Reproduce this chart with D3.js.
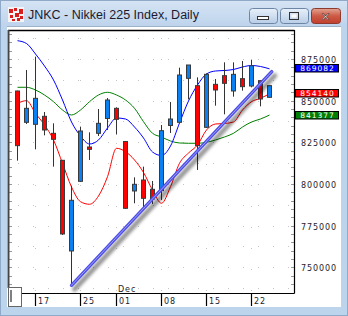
<!DOCTYPE html>
<html>
<head>
<meta charset="utf-8">
<script src="https://cdn.jsdelivr.net/npm/d3@7"></script>
<style>
  html, body { margin: 0; padding: 0; background: #bcd4ec; overflow: hidden; }
  svg { display: block; }
</style>
</head>
<body>
<svg id="chart" width="348" height="316"></svg>
<script>
// trading days shown on the chart
const dates = ["11-13","11-14","11-17","11-18","11-19","11-20","11-21","11-25","11-26","11-27","11-28",
  "12-01","12-02","12-03","12-04","12-05","12-08","12-09","12-10","12-11","12-12",
  "12-15","12-16","12-17","12-18","12-19","12-22","12-24","12-25"];
const open  = [855800,837000,835800,840600,830400,814200,759800,801600,822200,830400,839300,
  845400,825500,795800,802400,796800,796000,835100,837000,863400,859000,
  834000,859800,865000,855800,863200,858800,862000,852000];
const high  = [856000,868400,876400,843200,836400,814400,799000,834400,831000,845000,851600,
  846000,825800,804000,810400,801800,835400,849200,869800,871400,864000,
  866300,863000,873000,873000,873800,874400,862000,859400];
const low   = [814000,836000,820800,829200,810400,769400,738800,801200,814400,828800,832400,
  829700,785000,788400,784400,788000,790400,830600,836600,850800,808400,
  833600,847000,841800,852400,856000,858000,846600,851900];
const close = [823000,845400,851400,832400,826800,770000,790200,831800,820800,836400,850400,
  838800,785400,799800,791400,791000,832000,839000,865400,871400,823000,
  865800,856400,860400,865800,858400,871000,851000,859000];

// indicator lines
const blueLine  = [885980,884300,878000,870800,862400,850400,837200,828800,824000,826400,833600,
  839600,839000,834200,827600,819200,817100,822800,836600,849800,859400,
  866000,867800,868100,868700,870200,871100,870500,869082];
const greenLine = [858020,858020,856400,853400,849380,844400,841400,844400,849380,853400,855020,
  853400,850400,845420,837380,830420,828200,825800,824600,824420,824420,
  825020,826400,828200,830420,834200,837200,839000,841377];
const redLine   = [848420,850000,842420,835400,826400,812420,798200,789380,787820,792800,804380,
  821420,819380,814400,806900,796400,788420,798380,812420,818600,823400,
  832400,836000,836300,837200,844400,849380,851420,854140];

// trend line drawn on the chart (bar index, price)
const trendIdx = [6, 28.25];
const trendVal = [739200, 867400];

const priceTicks = [750000, 775000, 800000, 825000, 850000, 875000];
const dateTicks = ["11-17","11-25","12-01","12-08","12-15","12-22"];
const dateTickLabels = ["17","25","01","08","15","22"];

const svg = d3.select("#chart");
const plot = { left: 8, right: 294, top: 30, bottom: 293 };
const font = "'DejaVu Sans', sans-serif";

const x = d3.scaleLinear().domain([0, dates.length - 1]).range([17.5, 269.5]);
const y = d3.scaleLinear().domain([750000, 875000]).range([267.3, 59]);

const defs = svg.append("defs");
const tg = defs.append("linearGradient").attr("id", "titleGrad").attr("x1", 0).attr("y1", 0).attr("x2", 0).attr("y2", 1);
tg.append("stop").attr("offset", "0%").attr("stop-color", "#d6e4f4");
tg.append("stop").attr("offset", "100%").attr("stop-color", "#bdd3ec");
const bg = defs.append("linearGradient").attr("id", "btnGrad").attr("x1", 0).attr("y1", 0).attr("x2", 0).attr("y2", 1);
bg.append("stop").attr("offset", "0%").attr("stop-color", "#e8f0fa");
bg.append("stop").attr("offset", "100%").attr("stop-color", "#b8cde6");
const cg = defs.append("linearGradient").attr("id", "closeGrad").attr("x1", 0).attr("y1", 0).attr("x2", 0).attr("y2", 1);
cg.append("stop").attr("offset", "0%").attr("stop-color", "#e3a493");
cg.append("stop").attr("offset", "50%").attr("stop-color", "#cc5a45");
cg.append("stop").attr("offset", "100%").attr("stop-color", "#c23f2c");
defs.append("filter").attr("id", "blur").attr("x", "-20%").attr("y", "-20%").attr("width", "140%").attr("height", "140%")
  .append("feGaussianBlur").attr("stdDeviation", 1.6);
defs.append("clipPath").attr("id", "plotClip").append("rect")
  .attr("x", plot.left).attr("y", plot.top).attr("width", plot.right - plot.left).attr("height", plot.bottom - plot.top);

// window frame
svg.append("rect").attr("width", 348).attr("height", 316).attr("fill", "#bcd4ec");
svg.append("rect").attr("width", 348).attr("height", 27).attr("fill", "url(#titleGrad)");
svg.append("rect").attr("x", 0.5).attr("y", 0.5).attr("width", 347).attr("height", 315)
  .attr("fill", "none").attr("stroke", "#8fa9c8");

// title icon
const icon = svg.append("g").attr("transform", "translate(8,7)");
icon.append("rect").attr("width", 16).attr("height", 15).attr("fill", "#f4f4f4");
[[1,2,4,4],[6,1,3,3],[11,2,4,5],[2,8,3,3],[7,6,4,4],[12,9,3,3],[4,12,3,2],[9,11,3,3]].forEach(r => {
  icon.append("rect").attr("x", r[0]).attr("y", r[1]).attr("width", r[2]).attr("height", r[3]).attr("fill", "#d81e1e");
});
svg.append("text").attr("x", 28).attr("y", 19).attr("font-family", "'Liberation Sans', Arial, sans-serif")
  .attr("font-size", 12.5).attr("fill", "#1a1a30").text("JNKC - Nikkei 225 Index, Daily");

// caption buttons
function button(x0, w, fill) {
  return svg.append("rect").attr("x", x0 + 0.5).attr("y", 8.5).attr("width", w).attr("height", 15)
    .attr("rx", 3).attr("fill", fill).attr("stroke", "#6e86a6");
}
button(249, 28, "url(#btnGrad)");
button(280, 28, "url(#btnGrad)");
button(311, 29, "url(#closeGrad)").attr("stroke", "#8c3a2e");
svg.append("rect").attr("x", 257.5).attr("y", 16.5).attr("width", 11).attr("height", 3).attr("fill", "#fff").attr("stroke", "#333");
svg.append("rect").attr("x", 289.5).attr("y", 12.5).attr("width", 9).attr("height", 7).attr("fill", "none").attr("stroke", "#333").attr("stroke-width", 1);
svg.append("rect").attr("x", 291.5).attr("y", 14.5).attr("width", 5).attr("height", 3).attr("fill", "#fff").attr("stroke", "none");
svg.append("text").attr("x", 325.5).attr("y", 21).attr("text-anchor", "middle").attr("font-family", font)
  .attr("font-weight", "bold").attr("font-size", 12).attr("fill", "#fff").attr("stroke", "#5a2a22").attr("stroke-width", 0.6)
  .text("✕");

// white client area
svg.append("rect").attr("x", 7).attr("y", 27).attr("width", 334).attr("height", 280).attr("fill", "#fff");
svg.append("line").attr("x1", 7).attr("x2", 341).attr("y1", 26.5).attr("y2", 26.5).attr("stroke", "#9eb2c8");

// grid
const grid = svg.append("g").attr("clip-path", "url(#plotClip)");
d3.range(737500, 890001, 12500).forEach(v => {
  grid.append("line").attr("x1", plot.left + 10).attr("x2", plot.right).attr("y1", Math.round(y(v)) + 0.5).attr("y2", Math.round(y(v)) + 0.5)
    .attr("stroke", "#c4c4c4").attr("stroke-dasharray", "1,14");
});
dateTicks.forEach(d => {
  const xx = x(dates.indexOf(d));
  grid.append("line").attr("x1", xx).attr("x2", xx).attr("y1", plot.top + 8).attr("y2", plot.bottom)
    .attr("stroke", "#c4c4c4").attr("stroke-dasharray", "1,20");
});

// small price ticks on both inner edges
const minor = svg.append("g");
d3.range(740000, 890001, 5000).forEach(v => {
  const yy = Math.round(y(v)) + 0.5;
  if (yy < plot.top + 2 || yy > plot.bottom - 2) return;
  minor.append("line").attr("x1", plot.right - 3).attr("x2", plot.right).attr("y1", yy).attr("y2", yy).attr("stroke", "#999");
  minor.append("line").attr("x1", plot.left + 1).attr("x2", plot.left + 4).attr("y1", yy).attr("y2", yy).attr("stroke", "#999");
});

const chart = svg.append("g").attr("clip-path", "url(#plotClip)");

// moving average lines
const line = d3.line().x((d, i) => x(i)).y(d => y(d)).curve(d3.curveMonotoneX);
[[greenLine, "#008000"], [blueLine, "#0000ff"], [redLine, "#ff0000"]].forEach(([vals, col]) => {
  chart.append("path").datum(vals).attr("d", line).attr("fill", "none").attr("stroke", col).attr("stroke-width", 1);
});

// candles
const candles = chart.selectAll("g.candle").data(dates).join("g").attr("class", "candle");
candles.append("line")
  .attr("x1", (d, i) => x(i)).attr("x2", (d, i) => x(i))
  .attr("y1", (d, i) => y(high[i])).attr("y2", (d, i) => y(low[i]))
  .attr("stroke", "#333").attr("stroke-width", 1);
candles.append("rect")
  .attr("x", (d, i) => x(i) - 2)
  .attr("y", (d, i) => y(Math.max(open[i], close[i])))
  .attr("width", 4)
  .attr("height", (d, i) => Math.max(1, Math.abs(y(open[i]) - y(close[i]))))
  .attr("fill", (d, i) => close[i] >= open[i] ? "#0a80f2" : "#ff0000")
  .attr("stroke", "#3a3a3a").attr("stroke-width", 1);

// trend line with shadow
const tl = d3.line().x(d => x(d[0])).y(d => y(d[1]));
const trendPts = trendIdx.map((t, i) => [t, trendVal[i]]);
chart.append("path").datum(trendPts).attr("d", tl).attr("transform", "translate(3,4)")
  .attr("stroke", "#000").attr("stroke-opacity", 0.4).attr("stroke-width", 5).attr("stroke-linecap", "round")
  .attr("filter", "url(#blur)");
chart.append("path").datum(trendPts).attr("d", tl)
  .attr("stroke", "#4f4fe6").attr("stroke-width", 3.4).attr("stroke-linecap", "round");
chart.append("path").datum(trendPts).attr("d", tl)
  .attr("stroke", "#9c9cff").attr("stroke-width", 1).attr("stroke-linecap", "round");

// plot frame
svg.append("line").attr("x1", plot.left).attr("x2", plot.right + 0.5).attr("y1", plot.top + 0.5).attr("y2", plot.top + 0.5).attr("stroke", "#000").attr("stroke-width", 1.3);
svg.append("line").attr("x1", plot.right + 0.5).attr("x2", plot.right + 0.5).attr("y1", plot.top).attr("y2", plot.bottom + 0.5).attr("stroke", "#000").attr("stroke-width", 1.2);
svg.append("line").attr("x1", plot.left + 0.5).attr("x2", plot.left + 0.5).attr("y1", plot.top).attr("y2", 288).attr("stroke", "#444").attr("stroke-width", 2);
svg.append("line").attr("x1", plot.left).attr("x2", plot.right + 0.5).attr("y1", plot.bottom + 0.5).attr("y2", plot.bottom + 0.5).attr("stroke", "#000").attr("stroke-width", 1.2);

// price axis
const yAxis = svg.append("g").attr("transform", `translate(${plot.right},0)`)
  .call(d3.axisRight(y).tickValues(priceTicks).tickSize(0).tickPadding(7).tickFormat(d3.format("d")));
yAxis.select(".domain").remove();
yAxis.selectAll("text").attr("dy", "0.42em").attr("font-family", font).attr("font-size", 8)
  .attr("letter-spacing", 0.9).attr("fill", "#1c1c2c");

// date axis
const xAxis = svg.append("g");
dateTicks.forEach((d, k) => {
  const xx = Math.round(x(dates.indexOf(d))) - 0.5;
  xAxis.append("line").attr("x1", xx).attr("x2", xx).attr("y1", plot.bottom).attr("y2", 306).attr("stroke", "#000").attr("stroke-width", 1.2);
  xAxis.append("text").attr("x", xx + 2.5).attr("y", 303.5).attr("font-family", font).attr("font-size", 8)
    .attr("letter-spacing", 0.9).attr("fill", "#1c1c2c").text(dateTickLabels[k]);
});
xAxis.append("text").attr("x", Math.round(x(dates.indexOf("12-01"))) + 1).attr("y", 291.5).attr("font-family", font)
  .attr("font-size", 8).attr("letter-spacing", 0.9).attr("fill", "#1c1c2c").text("Dec");

// scroll box at bottom-left
svg.append("rect").attr("x", 8.5).attr("y", 287.5).attr("width", 13).attr("height", 19).attr("fill", "#fff").attr("stroke", "#666");
svg.append("line").attr("x1", 11).attr("x2", 11).attr("y1", 290).attr("y2", 302).attr("stroke", "#000");

// last value labels
const last = dates.length - 1;
[[blueLine[last], "#0000ff"], [redLine[last], "#ff0000"], [greenLine[last], "#008000"]].forEach(([v, col]) => {
  const yy = y(v);
  const top = Math.round(yy - 4.5) + 0.5;
  svg.append("rect").attr("x", 295.5).attr("y", top).attr("width", 43).attr("height", 7.5)
    .attr("fill", col).attr("stroke", "#000");
  svg.append("text").attr("x", 317.5).attr("y", top + 3.75).attr("dy", "0.36em").attr("text-anchor", "middle")
    .attr("font-family", font).attr("font-size", 7.5).attr("letter-spacing", 1).attr("fill", "#fff").text(v);
});
</script>
</body>
</html>
